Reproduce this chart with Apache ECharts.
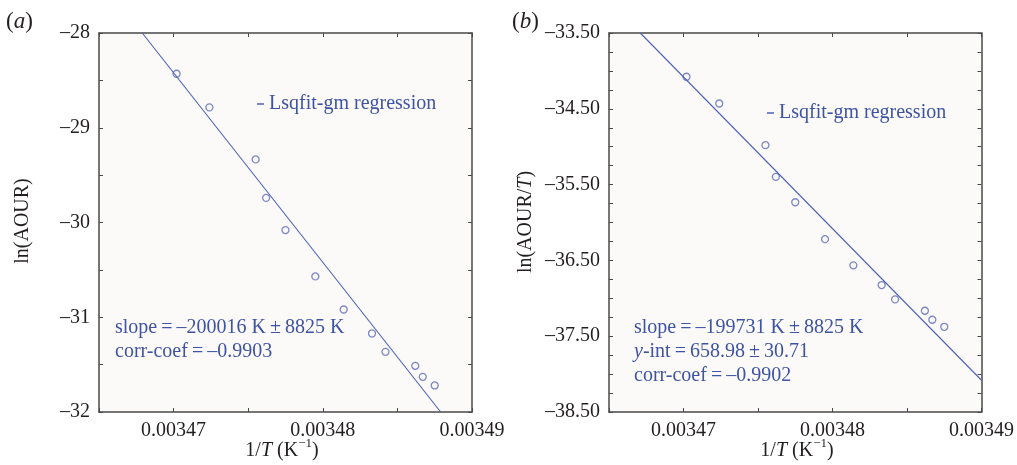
<!DOCTYPE html>
<html>
<head>
<meta charset="utf-8">
<script src="https://cdn.jsdelivr.net/npm/echarts@6/dist/echarts.min.js"></script>
<style>
  html, body { margin: 0; padding: 0; background: #ffffff; }
  #chart { width: 1017px; height: 465px; }
</style>
</head>
<body>
<div id="chart"></div>
<script>
// 1/T values (K^-1), same temperatures in both panels
const invT = [0.0034702, 0.0034724, 0.0034755, 0.0034762, 0.0034775, 0.0034795,
              0.0034814, 0.0034833, 0.0034842, 0.0034862, 0.0034867, 0.0034875];
// panel (a): ln(AOUR)
const lnAOUR = [-28.43, -28.785, -29.334, -29.74, -30.08, -30.569,
                -30.918, -31.171, -31.365, -31.513, -31.629, -31.72];
// panel (b): ln(AOUR/T)
const lnAOURT = [-34.077, -34.43, -34.98, -35.398, -35.733, -36.22,
                 -36.565, -36.825, -37.014, -37.164, -37.283, -37.376];
// regression line end points
const fitAx = [0.0034679, 0.0034879];
const fitAy = [-28, -32];
const fitBx = [0.0034671, 0.00349];
const fitBy = [-33.5, -38.081];

const statsA = ['slope\u2009=\u2009\u2013200016 K\u2009\u00b1\u20098825 K', 'corr-coef\u2009=\u2009\u20130.9903'];
const statsB = ['slope\u2009=\u2009\u2013199731 K\u2009\u00b1\u20098825 K', 'y-int\u2009=\u2009658.98\u2009\u00b1\u200930.71', 'corr-coef\u2009=\u2009\u20130.9902'];

const FONT = '"Liberation Serif", "DejaVu Serif", serif';
const FS = 20;
const BLUE = '#3d53a3';
const LINE = '#4c62b6';
const AXIS = '#4a4a4a';
const INK = '#231f20';

const chart = echarts.init(document.getElementById('chart'), null, { renderer: 'canvas' });

const pairs = (xs, ys) => xs.map((x, i) => [x, ys[i]]);

function xAxes(gi) {
  const base = {
    gridIndex: gi, type: 'value', min: 0.003465, max: 0.00349, interval: 0.000005,
    splitLine: { show: false },
    axisLine: { show: true, onZero: false, lineStyle: { color: AXIS, width: 1.5 } },
    axisTick: { show: true, inside: true, length: 4, lineStyle: { color: AXIS } }
  };
  return [
    Object.assign({}, base, {
      position: 'bottom',
      axisLabel: {
        margin: 9, fontFamily: FONT, fontSize: FS, color: INK,
        formatter: v => { const n = Math.round(v * 1e6); return n % 10 === 0 ? (n / 1e6).toFixed(5) : ''; }
      }
    }),
    Object.assign({}, base, { position: 'top', axisLabel: { show: false } })
  ];
}

function yAxes(gi, min, max, step, fmt) {
  const base = {
    gridIndex: gi, type: 'value', min: min, max: max, interval: step,
    splitLine: { show: false },
    axisLine: { show: true, onZero: false, lineStyle: { color: AXIS, width: 1.5 } },
    axisTick: { show: true, inside: true, length: 4, lineStyle: { color: AXIS } }
  };
  return [
    Object.assign({}, base, {
      position: 'left',
      axisLabel: { margin: 9, fontFamily: FONT, fontSize: FS, color: INK, formatter: fmt }
    }),
    Object.assign({}, base, { position: 'right', axisLabel: { show: false } })
  ];
}

const fmtA = v => Math.abs(v - Math.round(v)) < 1e-6 ? '\u2013' + Math.abs(Math.round(v)) : '';
const fmtB = v => {
  const h = Math.round(v * 2);
  return (Math.abs(v * 2 - h) < 1e-6 && Math.abs(h) % 2 === 1) ? '\u2013' + Math.abs(v).toFixed(2) : '';
};

const txt = (x, y, text) => ({
  type: 'text', x: x, y: y, silent: true,
  style: { text: text, fontFamily: FONT, fontSize: FS, fill: BLUE, verticalAlign: 'middle' }
});

const rich = (fill, size) => ({
  r: { fontFamily: FONT, fontSize: size || FS, fill: fill },
  i: { fontFamily: FONT, fontSize: size || FS, fontStyle: 'italic', fill: fill },
  s: { fontFamily: FONT, fontSize: 13, fill: fill, verticalAlign: 'top', lineHeight: 28 }
});

const option = {
  animation: false,
  backgroundColor: '#ffffff',
  grid: [
    { left: 99, top: 33, width: 373, height: 379, show: true, backgroundColor: '#fcfaf8', borderWidth: 0 },
    { left: 609, top: 33, width: 375, height: 379, show: true, backgroundColor: '#fcfaf8', borderWidth: 0 }
  ],
  xAxis: xAxes(0).concat(xAxes(1)),
  yAxis: yAxes(0, -32, -28, 0.5, fmtA).concat(yAxes(1, -38.5, -33.5, 0.25, fmtB)),
  legend: [
    { left: 252, top: 89, itemWidth: 7, itemHeight: 1.5, itemGap: 4, icon: 'rect',
      textStyle: { fontFamily: FONT, fontSize: FS, color: BLUE }, data: ['Lsqfit-gm regression'] },
    { left: 762, top: 98, itemWidth: 7, itemHeight: 1.5, itemGap: 4, icon: 'rect',
      textStyle: { fontFamily: FONT, fontSize: FS, color: BLUE }, data: ['Lsqfit-gm regression'] }
  ],
  series: [
    { type: 'scatter', name: 'ln(AOUR)', xAxisIndex: 0, yAxisIndex: 0, data: pairs(invT, lnAOUR),
      symbol: 'circle', symbolSize: 7, itemStyle: { color: 'transparent', borderColor: '#5b6cb8', borderWidth: 1.3 } },
    { type: 'line', name: 'Lsqfit-gm regression', xAxisIndex: 0, yAxisIndex: 0, data: pairs(fitAx, fitAy),
      symbol: 'none', lineStyle: { color: LINE, width: 1.1 }, itemStyle: { color: LINE } },
    { type: 'scatter', name: 'ln(AOUR/T)', xAxisIndex: 2, yAxisIndex: 2, data: pairs(invT, lnAOURT),
      symbol: 'circle', symbolSize: 7, itemStyle: { color: 'transparent', borderColor: '#5b6cb8', borderWidth: 1.3 } },
    { type: 'line', name: 'Lsqfit-gm regression', xAxisIndex: 2, yAxisIndex: 2, data: pairs(fitBx, fitBy),
      symbol: 'none', lineStyle: { color: LINE, width: 1.1 }, itemStyle: { color: LINE } }
  ],
  graphic: [
    // panel letters
    { type: 'text', x: 6, y: 22, style: { text: '{r|(}{i|a}{r|)}', verticalAlign: 'middle', rich: rich(INK, 23) } },
    { type: 'text', x: 512, y: 22, style: { text: '{r|(}{i|b}{r|)}', verticalAlign: 'middle', rich: rich(INK, 23) } },
    // y axis names
    { type: 'text', x: 23, y: 221, rotation: Math.PI / 2,
      style: { text: '{r|ln(AOUR)}', align: 'center', verticalAlign: 'middle', rich: rich(INK) } },
    { type: 'text', x: 526, y: 222, rotation: Math.PI / 2,
      style: { text: '{r|ln(AOUR/}{i|T}{r|)}', align: 'center', verticalAlign: 'middle', rich: rich(INK) } },
    // x axis names
    { type: 'text', x: 282, y: 451,
      style: { text: '{r|1/}{i|T}{r| (K}{s|\u22121}{r|)}', align: 'center', verticalAlign: 'middle', rich: rich(INK) } },
    { type: 'text', x: 797, y: 451,
      style: { text: '{r|1/}{i|T}{r| (K}{s|\u22121}{r|)}', align: 'center', verticalAlign: 'middle', rich: rich(INK) } },
    // fit statistics
    txt(115, 328, statsA[0]),
    txt(115, 352, statsA[1]),
    txt(634, 328, statsB[0]),
    { type: 'text', x: 634, y: 352, silent: true,
      style: { text: '{i|y}{r|' + statsB[1].slice(1) + '}', verticalAlign: 'middle', rich: rich(BLUE) } },
    txt(634, 376, statsB[2])
  ]
};

chart.setOption(option);
</script>
</body>
</html>
